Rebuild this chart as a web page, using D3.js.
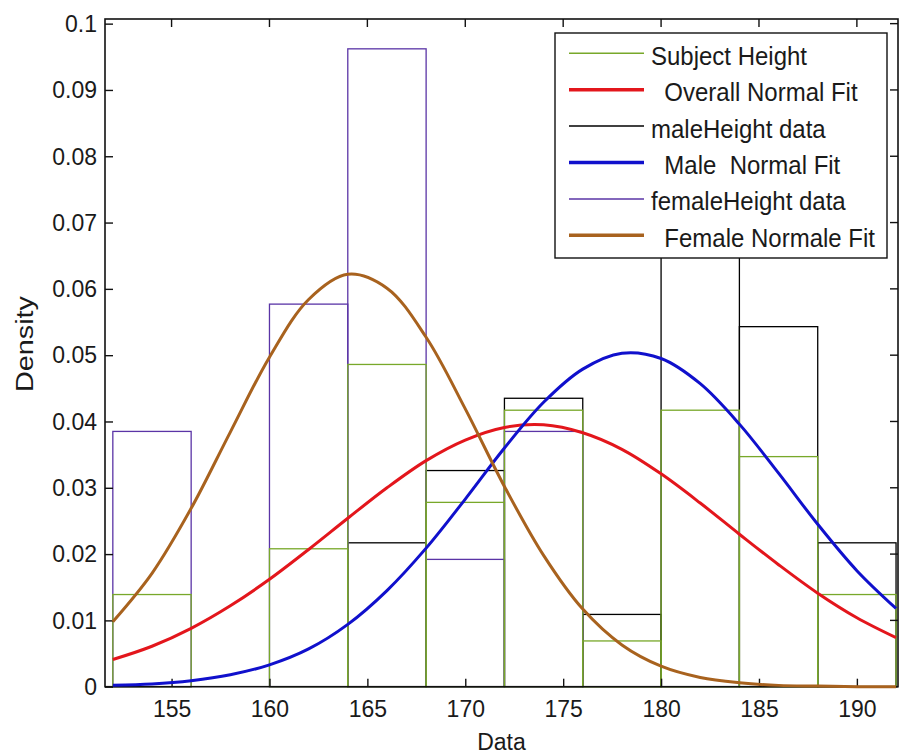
<!DOCTYPE html>
<html>
<head>
<meta charset="utf-8">
<script src="https://cdn.jsdelivr.net/npm/d3@7"></script>
<style>
  html, body { margin: 0; padding: 0; background: #ffffff; }
  svg { display: block; }
  text { font-family: "Liberation Sans", Arial, Helvetica, sans-serif; fill: #1a1a1a; }
</style>
</head>
<body>
<svg id="chart" width="899" height="755"></svg>
<script>
// Histogram bins (cm) shared by every height histogram
const binEdges = [152, 156, 160, 164, 168, 172, 176, 180, 184, 188, 192];

// Density of each bin
const subjectDensity = [0.0139, 0, 0.0208, 0.0486, 0.0278, 0.0417, 0.0069, 0.0417, 0.0347, 0.0139];
const maleDensity    = [0, 0, 0, 0.0217, 0.0326, 0.0435, 0.0109, 0.0652, 0.0543, 0.0217];
const femaleDensity  = [0.0385, 0, 0.0577, 0.0962, 0.0192, 0.0385, 0, 0, 0, 0];

// Fitted normal density curves sampled along the height axis
const fitX = [152, 154, 156, 158, 160, 162, 164, 166, 168, 170, 172, 174, 176, 178, 180, 182, 184, 186, 188, 190, 192];
const overallFit = [0.0041, 0.0061, 0.0088, 0.0122, 0.0162, 0.0207, 0.0254, 0.0300, 0.0341, 0.0372, 0.0391,
                    0.0395, 0.0383, 0.0358, 0.0321, 0.0277, 0.0230, 0.0184, 0.0141, 0.0104, 0.0074];
const maleFit    = [0.0002, 0.0004, 0.0009, 0.0018, 0.0033, 0.0057, 0.0094, 0.0145, 0.0209, 0.0283, 0.0360,
                    0.0429, 0.0479, 0.0503, 0.0495, 0.0457, 0.0396, 0.0322, 0.0245, 0.0175, 0.0118];
const femaleFit  = [0.0098, 0.0171, 0.0269, 0.0384, 0.0497, 0.0584, 0.0622, 0.0601, 0.0527, 0.0419, 0.0302,
                    0.0198, 0.0117, 0.0063, 0.0031, 0.0014, 0.0006, 0.0002, 0.0001, 0.0000, 0.0000];

// Axis ticks
const xTicks = [155, 160, 165, 170, 175, 180, 185, 190];
const yTicks = [0, 0.01, 0.02, 0.03, 0.04, 0.05, 0.06, 0.07, 0.08, 0.09, 0.1];

// Legend entries
const legendLabels = ["Subject Height", "  Overall Normal Fit", "maleHeight data",
                      "  Male  Normal Fit", "femaleHeight data", "  Female Normale Fit"];

const colors = {
  subject: "#78a82a",
  overall: "#e3161c",
  male: "#000000",
  maleFit: "#1010cc",
  female: "#5a34a6",
  femaleFit: "#a8621e"
};

const svg = d3.select("#chart");
const plot = { left: 105, right: 898, top: 19, bottom: 686.7 };

const x = d3.scaleLinear().domain([151.6, 192.1]).range([plot.left, plot.right]);
const y = d3.scaleLinear().domain([0, 0.1007]).range([plot.bottom, plot.top]);

const fs = 23;
const legFs = 24;
const tickLen = 8;

// Histogram outlines
function drawHist(values, color) {
  const bins = values.map((v, i) => ({ x0: binEdges[i], x1: binEdges[i + 1], v }));
  svg.append("g").selectAll("rect").data(bins).join("rect")
    .attr("x", d => x(d.x0))
    .attr("y", d => y(d.v))
    .attr("width", d => x(d.x1) - x(d.x0))
    .attr("height", d => y(0) - y(d.v))
    .attr("fill", "none")
    .attr("stroke", color)
    .attr("stroke-width", 1.3);
}
drawHist(maleDensity, colors.male);
drawHist(femaleDensity, colors.female);
drawHist(subjectDensity, colors.subject);

// Axes box
const axisG = svg.append("g");
axisG.append("rect")
  .attr("x", plot.left).attr("y", plot.top)
  .attr("width", plot.right - plot.left).attr("height", plot.bottom - plot.top)
  .attr("fill", "none").attr("stroke", "#111").attr("stroke-width", 1.6);

// Bottom / top ticks
const xAxis = d3.axisBottom(x).tickValues(xTicks).tickSize(0).tickPadding(0).tickFormat(d3.format("d"));
const gx = axisG.append("g").attr("transform", `translate(0,${plot.bottom})`).call(xAxis);
gx.select(".domain").remove();
gx.selectAll("text").attr("font-size", fs).attr("dy", null).attr("y", 30)
  .attr("font-family", "Liberation Sans, Arial, sans-serif").attr("fill", "#1a1a1a");
gx.selectAll(".tick").append("line").attr("y1", 0).attr("y2", -tickLen).attr("stroke", "#111").attr("stroke-width", 1.4);
axisG.append("g").selectAll("line").data(xTicks).join("line")
  .attr("x1", d => x(d)).attr("x2", d => x(d))
  .attr("y1", plot.top).attr("y2", plot.top + tickLen)
  .attr("stroke", "#111").attr("stroke-width", 1.4);

// Left / right ticks
const yAxis = d3.axisLeft(y).tickValues(yTicks).tickSize(0).tickPadding(0).tickFormat(d => String(+d.toFixed(2)));
const gy = axisG.append("g").attr("transform", `translate(${plot.left},0)`).call(yAxis);
gy.select(".domain").remove();
gy.selectAll("text").attr("font-size", fs).attr("x", -8).attr("dy", "0.34em")
  .attr("font-family", "Liberation Sans, Arial, sans-serif").attr("fill", "#1a1a1a");
gy.selectAll(".tick").append("line").attr("x1", 0).attr("x2", tickLen).attr("stroke", "#111").attr("stroke-width", 1.4);
axisG.append("g").selectAll("line").data(yTicks).join("line")
  .attr("x1", plot.right).attr("x2", plot.right - tickLen)
  .attr("y1", d => y(d)).attr("y2", d => y(d))
  .attr("stroke", "#111").attr("stroke-width", 1.4);

// Axis labels
svg.append("text").attr("x", (plot.left + plot.right) / 2).attr("y", 750)
  .attr("text-anchor", "middle").attr("font-size", fs).text("Data");
svg.append("text").attr("transform", `translate(33,344) rotate(-90)`)
  .attr("text-anchor", "middle").attr("font-size", fs)
  .attr("textLength", 96).attr("lengthAdjust", "spacingAndGlyphs").text("Density");

// Fitted curves
const line = (vals) => d3.line()
  .x((d, i) => x(fitX[i]))
  .y(d => y(d))
  .curve(d3.curveCatmullRom.alpha(0.5))(vals);

[[overallFit, colors.overall], [maleFit, colors.maleFit], [femaleFit, colors.femaleFit]].forEach(([vals, c]) => {
  svg.append("path").attr("d", line(vals))
    .attr("fill", "none").attr("stroke", c).attr("stroke-width", 3)
    .attr("stroke-linejoin", "round");
});

// Legend
const leg = { x: 555, y: 33, w: 332, h: 225 };
const lg = svg.append("g");
lg.append("rect").attr("x", leg.x).attr("y", leg.y).attr("width", leg.w).attr("height", leg.h)
  .attr("fill", "#fff").attr("stroke", "#111").attr("stroke-width", 1.4);
const legColors = [colors.subject, colors.overall, colors.male, colors.maleFit, colors.female, colors.femaleFit];
const legWidths = [1.5, 3.5, 1.5, 3.5, 1.5, 3.5];
legendLabels.forEach((lab, i) => {
  const cy = 53.3 + i * 36.4;
  lg.append("line").attr("x1", 569).attr("x2", 644).attr("y1", cy).attr("y2", cy)
    .attr("stroke", legColors[i]).attr("stroke-width", legWidths[i]);
  lg.append("text").attr("transform", `translate(651,${cy + 11.5}) scale(1,1.08)`)
    .attr("font-size", legFs).style("white-space", "pre").text(lab);
});
</script>
</body>
</html>
